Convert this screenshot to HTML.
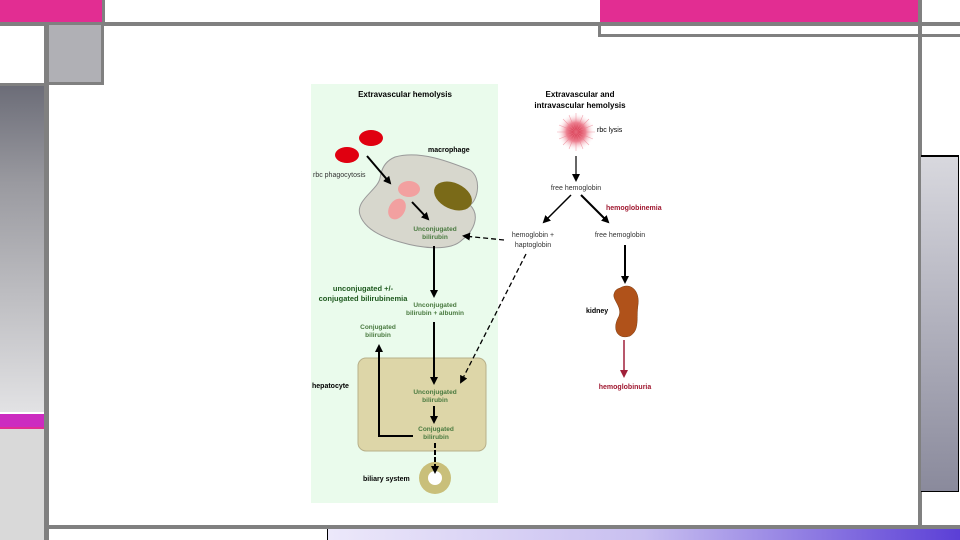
<!DOCTYPE html>
<html><head><meta charset="utf-8"><style>
body{margin:0;width:960px;height:540px;overflow:hidden;background:#fff;position:relative;font-family:"Liberation Sans",sans-serif}
.a{position:absolute}
</style></head><body>
<div class="a" style="left:0;top:0;width:102px;height:22px;background:#e22d92"></div>
<div class="a" style="left:102px;top:0;width:3px;height:22px;background:#808080"></div>
<div class="a" style="left:600px;top:0;width:318px;height:22px;background:#e22d92"></div>
<div class="a" style="left:0;top:22px;width:960px;height:4px;background:#808080"></div>
<div class="a" style="left:598px;top:22px;width:3px;height:15px;background:#808080"></div>
<div class="a" style="left:598px;top:34px;width:362px;height:3px;background:#808080"></div>
<div class="a" style="left:918px;top:0;width:4px;height:528px;background:#808080"></div>
<div class="a" style="left:44px;top:25px;width:5px;height:515px;background:#808080"></div>
<div class="a" style="left:49px;top:25px;width:55px;height:60px;background:#b0b0b5;border-right:3px solid #808080;border-bottom:3px solid #808080;box-sizing:border-box"></div>
<div class="a" style="left:0;top:83px;width:49px;height:3px;background:#808080"></div>
<div class="a" style="left:0;top:86px;width:44px;height:326px;background:linear-gradient(#6c6d78,#9a9aa0 30%,#e2e2e4)"></div>
<div class="a" style="left:0;top:414px;width:44px;height:13px;background:#cc2bc0;border-bottom:2px solid #e22d92"></div>
<div class="a" style="left:0;top:429px;width:44px;height:111px;background:#d9d9d9"></div>
<div class="a" style="left:48px;top:525px;width:912px;height:4px;background:#808080"></div>
<div class="a" style="left:327px;top:529px;width:1px;height:11px;background:#000"></div>
<div class="a" style="left:328px;top:529px;width:632px;height:11px;background:linear-gradient(90deg,#ece8fa,#c8bff0 50%,#5b3fd6)"></div>
<div class="a" style="left:921px;top:155px;width:38px;height:337px;background:linear-gradient(#d8d8de,#8a8a9c);border-top:2px solid #000;border-right:1px solid #000;border-bottom:1px solid #000;box-sizing:border-box"></div>

<svg class="a" style="left:0;top:0" width="960" height="540" font-family="Liberation Sans,sans-serif">
<defs>
<marker id="ah" markerWidth="8" markerHeight="8" refX="6" refY="4" orient="auto" markerUnits="userSpaceOnUse"><path d="M0,0 L8,4 L0,8 Z" fill="#000"/></marker>
<marker id="ahr" markerWidth="8" markerHeight="8" refX="6" refY="4" orient="auto" markerUnits="userSpaceOnUse"><path d="M0,0 L8,4 L0,8 Z" fill="#a0203a"/></marker>
<radialGradient id="burst"><stop offset="0" stop-color="#d0203a"/><stop offset="0.5" stop-color="#ec8090"/><stop offset="1" stop-color="#fff" stop-opacity="0"/></radialGradient>
</defs>
<rect x="311" y="84" width="187" height="419" fill="#eafbec"/>
<rect x="358" y="358" width="128" height="93" rx="8" fill="#ddd6a8" stroke="#b8b08a"/>
<text x="405" y="97" font-size="8" font-weight="bold" text-anchor="middle">Extravascular hemolysis</text>
<text x="580" y="97" font-size="8" font-weight="bold" text-anchor="middle">Extravascular and</text>
<text x="580" y="108" font-size="8" font-weight="bold" text-anchor="middle">intravascular hemolysis</text>
<circle cx="576" cy="132" r="19" fill="url(#burst)"/>
<g stroke="#ec8090" stroke-width="0.6" opacity="0.7">
<line x1="557" y1="132" x2="595" y2="132"/><line x1="576" y1="113" x2="576" y2="151"/>
<line x1="563" y1="119" x2="589" y2="145"/><line x1="589" y1="119" x2="563" y2="145"/>
<line x1="559" y1="125" x2="593" y2="139"/><line x1="559" y1="139" x2="593" y2="125"/>
<line x1="569" y1="115" x2="583" y2="149"/><line x1="583" y1="115" x2="569" y2="149"/>
</g>
<text x="597" y="132" font-size="7">rbc lysis</text>
<ellipse cx="371" cy="138" rx="12" ry="8" fill="#e00010"/>
<ellipse cx="347" cy="155" rx="12" ry="8" fill="#e00010"/>
<text x="313" y="177" font-size="7" fill="#333">rbc phagocytosis</text>
<path d="M395,157 C420,150 450,162 470,170 C482,178 478,200 470,205 C480,215 475,230 462,240 C450,252 420,248 400,242 C385,238 365,230 360,215 C355,200 378,190 380,178 C382,165 388,160 395,157Z" fill="#d7d7cd" stroke="#999" stroke-width="1"/>
<text x="428" y="152" font-size="7" font-weight="bold">macrophage</text>
<ellipse cx="409" cy="189" rx="11" ry="8" fill="#f2a0a0"/>
<ellipse cx="397" cy="209" rx="8" ry="11" fill="#f2a0a0" transform="rotate(30 397 209)"/>
<ellipse cx="453" cy="196" rx="20" ry="13" fill="#7a6a18" transform="rotate(25 453 196)"/>
<line x1="367" y1="156" x2="390" y2="183" stroke="#000" stroke-width="2" marker-end="url(#ah)"/>
<line x1="412" y1="202" x2="428" y2="219" stroke="#000" stroke-width="2" marker-end="url(#ah)"/>
<g font-size="6.5" font-weight="bold" fill="#4a7a40" text-anchor="middle">
<text x="435" y="231">Unconjugated</text><text x="435" y="239">bilirubin</text>
<text x="435" y="307">Unconjugated</text><text x="435" y="315">bilirubin + albumin</text>
<text x="378" y="329">Conjugated</text><text x="378" y="337">bilirubin</text>
<text x="435" y="394">Unconjugated</text><text x="435" y="402">bilirubin</text>
<text x="436" y="431">Conjugated</text><text x="436" y="439">bilirubin</text>
</g>
<text x="363" y="291" font-size="7.5" font-weight="bold" fill="#1f5a1f" text-anchor="middle">unconjugated +/-</text>
<text x="363" y="301" font-size="7.5" font-weight="bold" fill="#1f5a1f" text-anchor="middle">conjugated bilirubinemia</text>
<line x1="434" y1="246" x2="434" y2="296" stroke="#000" stroke-width="2" marker-end="url(#ah)"/>
<text x="312" y="388" font-size="7" font-weight="bold">hepatocyte</text>
<line x1="434" y1="322" x2="434" y2="383" stroke="#000" stroke-width="2" marker-end="url(#ah)"/>
<line x1="434" y1="406" x2="434" y2="422" stroke="#000" stroke-width="2" marker-end="url(#ah)"/>
<polyline points="413,436 379,436 379,346" fill="none" stroke="#000" stroke-width="2" marker-end="url(#ah)"/>
<circle cx="435" cy="478" r="16" fill="#c9bf7a"/><circle cx="435" cy="478" r="7" fill="#fff"/>
<line x1="435" y1="443" x2="435" y2="472" stroke="#000" stroke-width="2" stroke-dasharray="5,2" marker-end="url(#ah)"/>
<text x="363" y="481" font-size="7" font-weight="bold">biliary system</text>
<line x1="576" y1="156" x2="576" y2="180" stroke="#000" stroke-width="1.2" marker-end="url(#ah)"/>
<text x="576" y="190" font-size="7" text-anchor="middle" fill="#333">free hemoglobin</text>
<line x1="571" y1="195" x2="544" y2="222" stroke="#000" stroke-width="1.5" marker-end="url(#ah)"/>
<line x1="581" y1="195" x2="608" y2="222" stroke="#000" stroke-width="2" marker-end="url(#ah)"/>
<text x="606" y="210" font-size="7" font-weight="bold" fill="#a01830">hemoglobinemia</text>
<text x="533" y="237" font-size="7" text-anchor="middle" fill="#333">hemoglobin +</text>
<text x="533" y="247" font-size="7" text-anchor="middle" fill="#333">haptoglobin</text>
<text x="620" y="237" font-size="7" text-anchor="middle" fill="#333">free hemoglobin</text>
<line x1="504" y1="240" x2="464" y2="236" stroke="#000" stroke-width="1.3" stroke-dasharray="5,3" marker-end="url(#ah)"/>
<line x1="526" y1="254" x2="461" y2="382" stroke="#000" stroke-width="1.3" stroke-dasharray="5,3" marker-end="url(#ah)"/>
<line x1="625" y1="245" x2="625" y2="282" stroke="#000" stroke-width="2" marker-end="url(#ah)"/>
<path d="M620,288 C630,282 640,290 638,305 C636,318 640,330 630,336 C618,340 612,330 618,318 C624,308 612,300 614,294 C615,290 617,289 620,288Z" fill="#b0521a" stroke="#7a3a10" stroke-width="0.5"/>
<text x="586" y="313" font-size="7" font-weight="bold">kidney</text>
<line x1="624" y1="340" x2="624" y2="376" stroke="#a0203a" stroke-width="1.5" marker-end="url(#ahr)"/>
<text x="625" y="389" font-size="7" font-weight="bold" fill="#a01830" text-anchor="middle">hemoglobinuria</text>
</svg>
</body></html>
